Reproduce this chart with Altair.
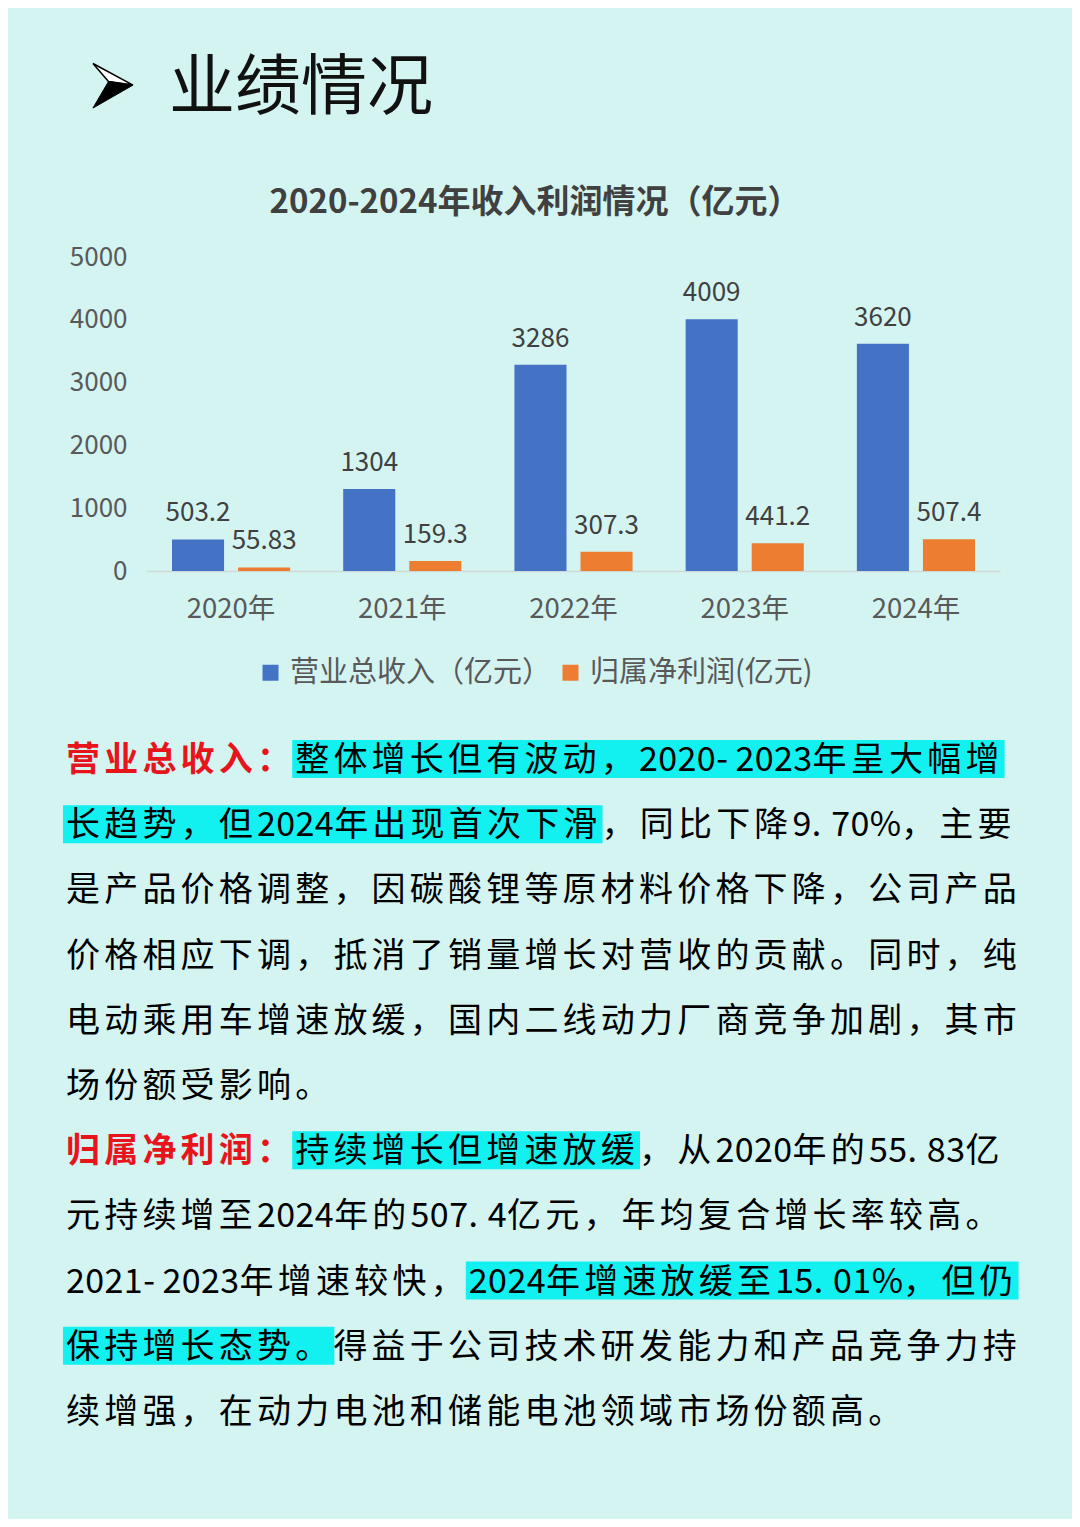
import altair as alt
import pandas as pd

# ---------------- data ----------------
YEARS = ["2020年", "2021年", "2022年", "2023年", "2024年"]
REVENUE = [503.2, 1304, 3286, 4009, 3620]
REVENUE_LABELS = ["503.2", "1304", "3286", "4009", "3620"]
PROFIT = [55.83, 159.3, 307.3, 441.2, 507.4]
PROFIT_LABELS = ["55.83", "159.3", "307.3", "441.2", "507.4"]
SERIES = ["营业总收入（亿元）", "归属净利润(亿元)"]
Y_TICKS = [0, 1000, 2000, 3000, 4000, 5000]

PAGE_TITLE = "业绩情况"
CHART_TITLE = "2020-2024年收入利润情况（亿元）"

# each line: list of (text, style) ; style: red / hl (highlighted) / plain
LINES = [
    [("营业总收入：", "red"), ("整体增长但有波动，2020-2023年呈大幅增", "hl")],
    [("长趋势，但2024年出现首次下滑", "hl"), ("，同比下降9.70%，主要", "plain")],
    [("是产品价格调整，因碳酸锂等原材料价格下降，公司产品", "plain")],
    [("价格相应下调，抵消了销量增长对营收的贡献。同时，纯", "plain")],
    [("电动乘用车增速放缓，国内二线动力厂商竞争加剧，其市", "plain")],
    [("场份额受影响。", "plain")],
    [("归属净利润：", "red"), ("持续增长但增速放缓", "hl"), ("，从2020年的55.83亿", "plain")],
    [("元持续增至2024年的507.4亿元，年均复合增长率较高。", "plain")],
    [("2021-2023年增速较快，", "plain"), ("2024年增速放缓至15.01%，但仍", "hl")],
    [("保持增长态势。", "hl"), ("得益于公司技术研发能力和产品竞争力持", "plain")],
    [("续增强，在动力电池和储能电池领域市场份额高。", "plain")],
]

# ---------------- styles / layout ----------------
FONT = "Noto Sans CJK SC"
BG = "#d4f4f2"
BLUE = "#4472c4"
ORANGE = "#ed7d31"
CYAN = "#12f0f0"
RED = "#e8141c"
AXIS_GRAY = "#595959"
LABEL_DARK = "#404040"

OX, OY = 147, 257          # page position of plot origin
PLOT_W, PLOT_H = 853, 314
TX0 = 66                   # body text left edge (page)
TY0 = 759                  # first body line centre (page)
LH = 65.2                  # line height
PITCH = 38.2               # full-width character pitch
HALF = 0.505               # half-width char in pitch units
PCT = 0.82                 # '%' width in pitch units

# arrowhead decoration (two facets), unit-box paths
ARROW_TOP = "M -0.89 -1 L 0.89 -0.04 L -0.2 -0.2 Z"
ARROW_BOTTOM = "M -0.2 -0.2 L 0.89 -0.04 L -0.89 0.98 Z"

# ---------------- tables ----------------
rows = []
for i, yr in enumerate(YEARS):
    rows.append({"year": yr, "series": SERIES[0], "value": REVENUE[i], "label": REVENUE_LABELS[i]})
    rows.append({"year": yr, "series": SERIES[1], "value": PROFIT[i], "label": PROFIT_LABELS[i]})
bar_df = pd.DataFrame(rows)

crow = []
k = 0
for li, line in enumerate(LINES):
    for si, (txt, style) in enumerate(line):
        for ch in txt:
            w = 1.0 if ord(ch) >= 128 else (PCT if ch == "%" else HALF)
            crow.append({"line": li, "seg": si, "k": k, "ch": ch, "style": style, "w": w})
            k += 1
char_df = pd.DataFrame(crow)

# ---------------- bar chart ----------------
X_ENC = alt.X(
    "year:N", sort=YEARS,
    scale=alt.Scale(paddingInner=0.31, paddingOuter=0.146),
    axis=alt.Axis(title=None, labelAngle=0, labelFontSize=27.5, labelColor=AXIS_GRAY,
                  labelFont=FONT, labelPadding=24, ticks=False, grid=False,
                  domainColor="#d0d8d8", domainWidth=1.5),
)
XO_ENC = alt.XOffset("series:N", scale=alt.Scale(domain=SERIES, paddingInner=0.212, paddingOuter=0))
Y_ENC = alt.Y(
    "value:Q",
    scale=alt.Scale(domain=[0, 5000], nice=False),
    axis=alt.Axis(title=None, values=Y_TICKS, format="d", grid=False, ticks=False, domain=False,
                  labelFontSize=26, labelColor=AXIS_GRAY, labelFont=FONT, labelPadding=20),
)

bars = alt.Chart(bar_df).mark_bar().encode(
    x=X_ENC, xOffset=XO_ENC, y=Y_ENC,
    color=alt.Color(
        "series:N",
        scale=alt.Scale(domain=SERIES, range=[BLUE, ORANGE]),
        legend=alt.Legend(
            title=None, orient="none", direction="horizontal",
            legendX=109, legendY=401, padding=0,
            symbolType="square", symbolSize=256, symbolStrokeWidth=0,
            labelFontSize=29, labelColor=AXIS_GRAY, labelFont=FONT,
            labelOffset=5, columnPadding=4, labelLimit=400,
        ),
    ),
)

bar_labels = alt.Chart(bar_df).mark_text(
    baseline="alphabetic", dy=-18, fontSize=26, color=LABEL_DARK, font=FONT
).encode(x=X_ENC, xOffset=XO_ENC, y=Y_ENC, text="label:N")

bar_layer = alt.layer(bars, bar_labels)

# ---------------- titles ----------------
title_mark = alt.Chart(pd.DataFrame({"t": [CHART_TITLE]})).mark_text(
    align="center", baseline="middle", fontSize=33, fontWeight="bold",
    color=LABEL_DARK, font=FONT
).encode(x=alt.value(535 - OX), y=alt.value(203 - OY), text="t:N")

header_mark = alt.Chart(pd.DataFrame({"t": [PAGE_TITLE]})).mark_text(
    align="left", baseline="middle", fontSize=66, color="#111111", font=FONT
).encode(x=alt.value(169 - OX), y=alt.value(89 - OY), text="t:N")

arrow_df = pd.DataFrame({"part": ["top", "bottom"]})
arrow_top = alt.Chart(arrow_df).transform_filter("datum.part == 'top'").mark_point(
    shape=ARROW_TOP, size=2025, filled=True, fill="#ffffff", stroke="#000000",
    strokeWidth=1.5, opacity=1
).encode(x=alt.value(113 - OX), y=alt.value(86 - OY))
arrow_bottom = alt.Chart(arrow_df).transform_filter("datum.part == 'bottom'").mark_point(
    shape=ARROW_BOTTOM, size=2025, filled=True, fill="#000000", stroke="#000000",
    strokeWidth=1, opacity=1
).encode(x=alt.value(113 - OX), y=alt.value(86 - OY))

# ---------------- body text ----------------
chars = alt.Chart(char_df).transform_window(
    cum="sum(w)", groupby=["line"], sort=[alt.SortField("k")], frame=[None, 0]
).transform_calculate(
    x=f"{TX0 - OX} + (datum.cum - datum.w) * {PITCH}",
    xe=f"{TX0 - OX} + datum.cum * {PITCH}",
    yc=f"{TY0 - OY} + datum.line * {LH}",
)

highlight = chars.transform_filter("datum.style == 'hl'").transform_aggregate(
    x0="min(x)", x1="max(xe)", groupby=["line", "seg", "yc"]
).transform_calculate(
    xa="datum.x0 - 3", xb="datum.x1 + 1", ya="datum.yc - 19", yb="datum.yc + 19"
).mark_rect(color=CYAN).encode(
    x=alt.X("xa:Q", scale=None, axis=None), x2="xb:Q",
    y=alt.Y("ya:Q", scale=None, axis=None), y2="yb:Q",
)

body = chars.transform_filter("datum.style != 'red'").mark_text(
    align="left", baseline="middle", fontSize=34, color="#000000", font=FONT, dy=2
).encode(
    x=alt.X("x:Q", scale=None, axis=None),
    y=alt.Y("yc:Q", scale=None, axis=None),
    text="ch:N",
)

red = chars.transform_filter("datum.style == 'red'").mark_text(
    align="left", baseline="middle", fontSize=34, fontWeight="bold", color=RED, font=FONT, dy=2
).encode(
    x=alt.X("x:Q", scale=None, axis=None),
    y=alt.Y("yc:Q", scale=None, axis=None),
    text="ch:N",
)

chart = alt.layer(
    bar_layer, highlight, body, red, title_mark, header_mark, arrow_top, arrow_bottom
).resolve_scale(
    x="independent", y="independent"
).properties(
    width=PLOT_W, height=PLOT_H,
    padding={"left": OX - 8, "top": OY - 8, "right": 1064 - (OX - 8) - PLOT_W,
             "bottom": 1511 - (OY - 8) - PLOT_H},
    autosize=alt.AutoSizeParams(type="none"),
).configure(
    background=BG
).configure_view(strokeWidth=0)

chart.save("out.html", embed_options={"renderer": "svg", "actions": False})
